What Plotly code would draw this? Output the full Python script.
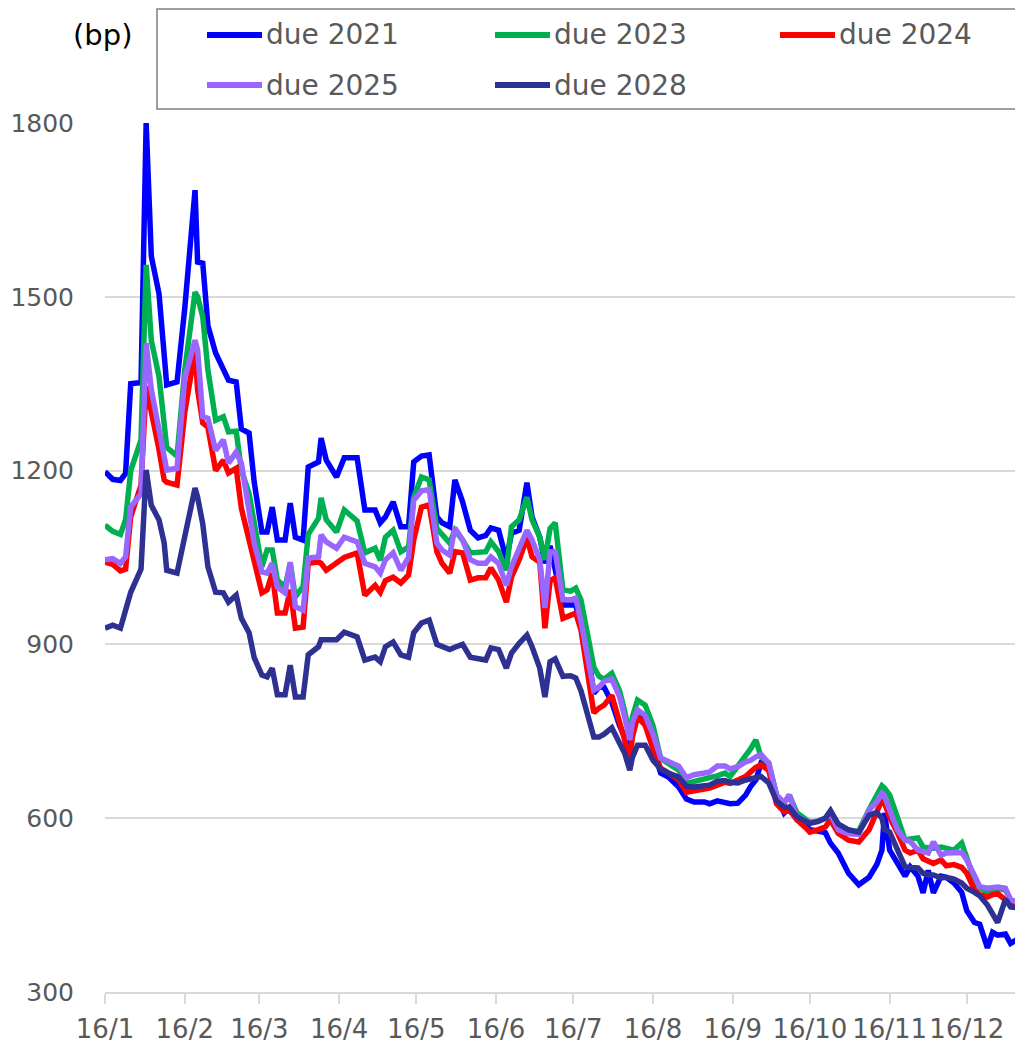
import pandas as pd
import plotly.graph_objects as go

# 観測日（2016年1月1日からの経過日数）
days = [0, 3, 6, 8, 10, 14, 16, 18, 21, 23,
        24, 28, 31, 35, 36, 38, 40, 43, 46, 48,
        51, 53, 56, 58, 61, 63, 65, 67, 70, 72,
        74, 77, 79, 83, 84, 86, 90, 93, 98, 101,
        105, 107, 109, 112, 115, 118, 120, 123, 126, 129,
        131, 134, 136, 139, 142, 145, 148, 150, 153, 156,
        158, 161, 164, 166, 169, 171, 173, 175, 178, 181,
        183, 185, 188, 190, 192, 194, 197, 200, 202, 204,
        205, 207, 210, 213, 216, 219, 223, 226, 229, 233,
        235, 238, 241, 243, 246, 249, 251, 253, 255, 258,
        261, 264, 266, 269, 272, 274, 277, 280, 282, 285,
        289, 293, 297, 300, 302, 303, 305, 308, 311, 313,
        316, 318, 320, 322, 325, 327, 330, 333, 335, 338,
        340, 343, 345, 347, 350, 352, 355]

due_2021 = [1198, 1185, 1183, 1195, 1350, 1352, 1800, 1570, 1505, 1400,
            1348, 1353, 1480, 1684, 1560, 1558, 1450, 1403, 1372, 1356,
            1353, 1272, 1265, 1180, 1094, 1094, 1137, 1080, 1080, 1144,
            1085, 1080, 1206, 1215, 1256, 1218, 1189, 1222, 1222, 1132,
            1132, 1110, 1120, 1146, 1103, 1103, 1215, 1225, 1227, 1120,
            1110, 1103, 1184, 1146, 1097, 1084, 1088, 1101, 1097, 1046,
            1092, 1097, 1179, 1120, 1085, 1040, 1070, 1030, 968, 968,
            968, 930, 880, 816, 826, 826, 800, 760, 740, 706,
            760, 782, 775, 720, 678, 671, 654, 633, 628, 628,
            625, 630, 627, 625, 626, 640, 655, 666, 695, 690,
            640, 609, 618, 597, 590, 580, 578, 575, 557, 540,
            505, 485, 498, 520, 545, 609, 545, 520, 500, 516,
            500, 471, 510, 471, 500, 498, 488, 472, 440, 420,
            417, 376, 403, 398, 400, 384, 392]

due_2023 = [1106, 1095, 1090, 1115, 1200, 1253, 1555, 1425, 1362, 1290,
            1240, 1225, 1374, 1508, 1500, 1465, 1374, 1287, 1293, 1267,
            1268, 1201, 1160, 1110, 1034, 1063, 1063, 1011, 999, 1040,
            982, 1000, 1090, 1118, 1153, 1115, 1094, 1132, 1113, 1058,
            1066, 1045, 1085, 1097, 1060, 1068, 1154, 1189, 1184, 1100,
            1090, 1075, 1097, 1080, 1058, 1058, 1060, 1077, 1060, 1028,
            1103, 1115, 1154, 1115, 1085, 1046, 1100, 1110, 994, 992,
            997, 977, 900, 861, 845, 840, 850, 820, 785, 740,
            775, 804, 795, 760, 703, 695, 683, 660, 664, 667,
            670, 673, 678, 672, 689, 706, 720, 735, 706, 695,
            640, 626, 640, 609, 600, 593, 595, 600, 612, 585,
            577, 578, 615, 640, 656, 652, 640, 602, 562, 564,
            566, 550, 548, 548, 550, 548, 545, 557, 533, 493,
            480, 472, 476, 479, 476, 459, 455]

due_2024 = [1042, 1038, 1027, 1030, 1120, 1175, 1345, 1305, 1236, 1184,
            1180, 1175, 1300, 1408, 1339, 1282, 1275, 1200, 1218, 1196,
            1204, 1135, 1080, 1046, 989, 994, 1023, 954, 954, 994,
            928, 930, 1040, 1042, 1040, 1028, 1040, 1050, 1058, 985,
            1002, 990, 1010, 1016, 1006, 1020, 1080, 1137, 1141, 1060,
            1040, 1023, 1060, 1058, 1011, 1015, 1015, 1032, 1011, 973,
            1016, 1046, 1084, 1051, 1042, 928, 1010, 1015, 945, 950,
            954, 925, 830, 782, 790, 795, 812, 770, 735, 700,
            740, 775, 760, 720, 686, 678, 666, 645, 647, 650,
            652, 657, 662, 660, 666, 672, 680, 688, 692, 683,
            625, 611, 614, 597, 585, 576, 580, 585, 597, 574,
            562, 559, 580, 612, 631, 626, 602, 575, 545, 540,
            545, 530, 525, 522, 528, 518, 520, 515, 505, 476,
            468, 464, 468, 470, 459, 455, 447]

due_2025 = [1046, 1048, 1040, 1051, 1137, 1160, 1420, 1340, 1270, 1220,
            1201, 1204, 1360, 1425, 1408, 1293, 1290, 1235, 1253, 1213,
            1232, 1213, 1135, 1075, 1025, 1023, 1040, 999, 989, 1042,
            965, 959, 1049, 1051, 1089, 1077, 1066, 1085, 1077, 1040,
            1034, 1023, 1046, 1058, 1028, 1050, 1149, 1165, 1167, 1075,
            1063, 1054, 1101, 1080, 1046, 1040, 1040, 1051, 1040, 1002,
            1034, 1068, 1097, 1080, 1046, 963, 1060, 1060, 977, 977,
            980, 940, 870, 821, 826, 836, 840, 810, 775, 735,
            765, 787, 777, 745, 704, 697, 690, 670, 675, 678,
            680, 690, 690, 685, 689, 697, 700, 706, 710, 695,
            640, 626, 640, 602, 597, 593, 595, 600, 607, 580,
            573, 572, 614, 628, 643, 638, 614, 580, 562, 560,
            545, 542, 540, 559, 536, 540, 540, 541, 528, 500,
            482, 479, 480, 481, 479, 459, 455]

due_2028 = [928, 933, 928, 963, 990, 1030, 1201, 1140, 1115, 1075,
            1028, 1023, 1090, 1170, 1154, 1108, 1034, 990, 989, 973,
            985, 945, 920, 877, 847, 844, 859, 813, 813, 864,
            809, 809, 882, 896, 908, 908, 908, 921, 913, 873,
            878, 870, 896, 904, 882, 878, 920, 937, 942, 900,
            896, 891, 895, 900, 878, 876, 873, 894, 891, 859,
            885, 902, 916, 896, 859, 809, 870, 875, 845, 846,
            842, 820, 770, 740, 740, 745, 756, 730, 712, 683,
            705, 726, 726, 700, 685, 678, 671, 655, 654, 656,
            657, 664, 665, 662, 661, 666, 668, 672, 672, 661,
            630, 619, 619, 602, 596, 591, 594, 600, 613, 590,
            580, 576, 605, 610, 600, 580, 576, 545, 516, 515,
            514, 505, 502, 502, 497, 498, 495, 488, 479, 472,
            466, 450, 435, 420, 460, 447, 445]

dates = pd.Timestamp("2016-01-01") + pd.to_timedelta(days, unit="D")

series = [
    ("due 2021", due_2021, "#0000FF"),
    ("due 2023", due_2023, "#00B050"),
    ("due 2024", due_2024, "#FF0000"),
    ("due 2025", due_2025, "#9966FF"),
    ("due 2028", due_2028, "#2E3192"),
]

# プロット領域（ピクセル）
L, T, W, H = 97, 115, 918, 869
FIG_W, FIG_H = 1015, 1036


def px(x):
    return (x - L) / W


def py(y):
    return (T + H - y) / H


fig = go.Figure()
for name, values, color in series:
    fig.add_trace(go.Scatter(
        x=dates, y=values, name=name, mode="lines",
        line=dict(color=color, width=5.5),
        showlegend=False,
    ))

# 凡例（枠付き、3列×2行）
legend_slots = [(199, 27), (487, 27), (772, 27), (199, 77), (487, 77)]
shapes = [dict(
    type="rect", xref="paper", yref="paper",
    x0=px(149), x1=px(1040), y0=py(101), y1=py(1),
    line=dict(color="#808080", width=1.5),
)]
annotations = []
for (name, _, color), (lx, ly) in zip(series, legend_slots):
    shapes.append(dict(
        type="line", xref="paper", yref="paper",
        x0=px(lx), x1=px(lx + 55), y0=py(ly), y1=py(ly),
        line=dict(color=color, width=6),
    ))
    annotations.append(dict(
        text=name, xref="paper", yref="paper",
        x=px(lx + 57), y=py(ly), xanchor="left", yanchor="middle",
        showarrow=False, font=dict(size=28, color="#595959"),
    ))

annotations.append(dict(
    text="(bp)", xref="paper", yref="paper",
    x=px(94), y=py(27), xanchor="center", yanchor="middle",
    showarrow=False, font=dict(size=29, color="black"),
))

grid = "#D9D9D9"
fig.update_layout(
    width=FIG_W, height=FIG_H,
    margin=dict(l=L, r=FIG_W - L - W, t=T, b=FIG_H - T - H),
    plot_bgcolor="white", paper_bgcolor="white",
    font=dict(family="DejaVu Sans", size=27, color="#595959"),
    showlegend=False,
    xaxis=dict(
        type="date",
        range=["2016-01-01", "2016-12-22 20:00"],
        tick0="2016-01-01", dtick="M1", tickformat="%y/%-m",
        tickangle=0, automargin=False,
        showgrid=False, zeroline=False,
        showline=True, linecolor=grid, linewidth=2,
        ticks="outside", ticklen=10, tickcolor=grid, tickwidth=2,
        ticklabelstandoff=3,
        tickfont=dict(size=26, color="#595959"),
    ),
    yaxis=dict(
        range=[300, 1800], tick0=300, dtick=300,
        automargin=False,
        showgrid=True, gridcolor=grid, gridwidth=2,
        zeroline=False, showline=False,
        ticks="", ticklabelstandoff=30,
        tickfont=dict(size=25, color="#595959"),
    ),
    shapes=shapes,
    annotations=annotations,
)

fig.write_html("out.html")
